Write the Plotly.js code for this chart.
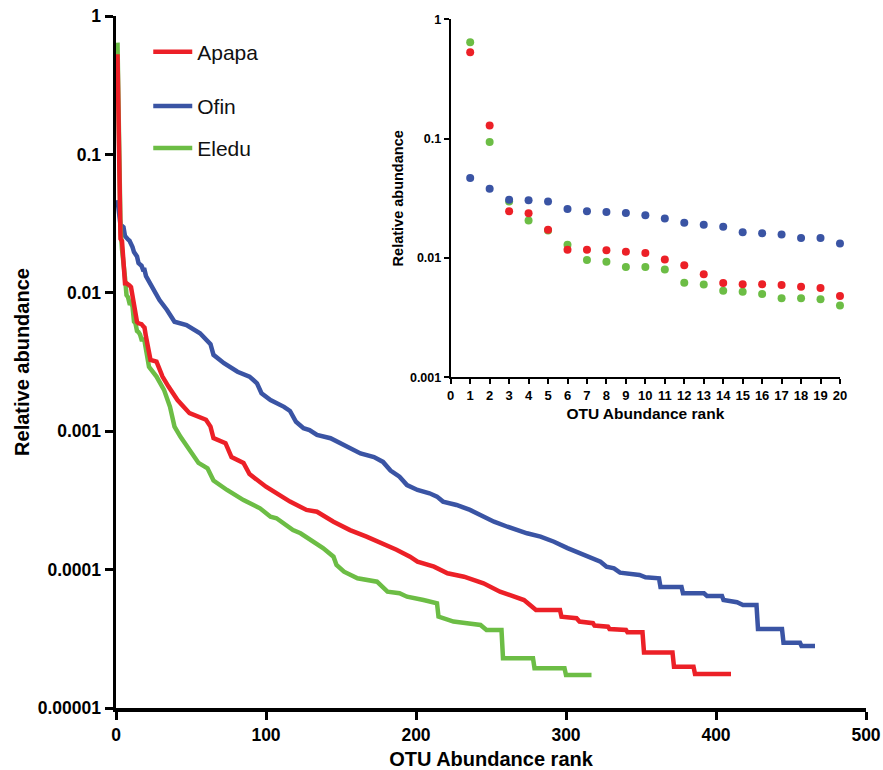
<!DOCTYPE html>
<html>
<head>
<meta charset="utf-8">
<script src="https://cdn.plot.ly/plotly-3.0.1.min.js"></script>
<style>html,body{margin:0;padding:0;background:#fff;}#chart{width:883px;height:770px;}</style>
</head>
<body>
<div id="chart"></div>
<script>
// ---- Data ----
const seriesNames = ["Apapa", "Ofin", "Eledu"];

// Top 20 OTUs (inset), ranks 1..20
const insetRanks = [1,2,3,4,5,6,7,8,9,10,11,12,13,14,15,16,17,18,19,20];
const apapaTop20 = [0.529,0.129,0.0246,0.0237,0.0172,0.0117,0.0117,0.0116,0.0113,0.0110,0.00969,0.00869,0.00730,0.00617,0.00602,0.00602,0.00594,0.00575,0.00561,0.00481];
const ofinTop20  = [0.0468,0.0381,0.0308,0.0304,0.0298,0.0257,0.0246,0.0243,0.0238,0.0228,0.0214,0.0197,0.0190,0.0183,0.0164,0.0161,0.0157,0.0147,0.0147,0.0132];
const eleduTop20 = [0.642,0.0938,0.0298,0.0206,0.0170,0.0129,0.0096,0.0093,0.0084,0.0084,0.0080,0.0062,0.0060,0.0053,0.0052,0.0050,0.0046,0.0046,0.0045,0.0040];

// Remaining ranks (main rank-abundance curves beyond rank 20)
const apapaTailRanks = [23,27,31,35,41,49,60,63,65,73,77,85,89,100,116,127,134,145,156,167,178,187,196,201,212,221,232,245,256,265,272,280,296,297,307,309,318,319,328,329,340,341,351,352,371,372,385,386,410];
const apapaTailVals  = [0.00327,0.00318,0.00248,0.00210,0.00168,0.00135,0.00121,0.00108,0.00089,0.00082,0.00065,0.00059,0.00049,0.000397,0.00031,0.00027,0.000262,0.000222,0.000193,0.000173,0.000155,0.000139,0.000124,0.000114,0.000105,0.0000940,0.0000889,0.0000796,0.0000692,0.0000637,0.0000603,0.0000510,0.0000510,0.0000457,0.0000445,0.0000421,0.0000410,0.0000394,0.0000387,0.0000372,0.0000366,0.0000352,0.0000352,0.0000252,0.0000252,0.0000199,0.0000199,0.0000176,0.0000176];

const ofinTailRanks = [25,29,34,39,47,56,63,65,72,81,89,94,97,103,112,116,120,125,129,134,143,152,163,172,178,183,189,194,201,209,214,218,227,236,245,252,261,267,274,283,292,301,309,318,323,327,332,336,343,349,353,362,363,377,378,392,394,404,405,414,418,427,428,444,445,456,457,466];
const ofinTailVals  = [0.01048,0.00887,0.00751,0.00618,0.00585,0.00510,0.00425,0.00356,0.00310,0.00269,0.00248,0.00222,0.00188,0.00168,0.00150,0.00140,0.00117,0.00105,0.00102,0.00094,0.00089,0.00079,0.00069,0.00065,0.00060,0.00052,0.000469,0.000408,0.000376,0.000356,0.000337,0.000310,0.000293,0.000270,0.000241,0.000222,0.000204,0.000193,0.000183,0.000173,0.000159,0.000143,0.000131,0.000121,0.000114,0.000105,0.000102,0.0000951,0.0000930,0.0000914,0.0000879,0.0000865,0.0000748,0.0000748,0.0000674,0.0000674,0.0000645,0.0000645,0.0000603,0.0000581,0.0000555,0.0000555,0.0000372,0.0000372,0.0000296,0.0000296,0.0000281,0.0000281];

const eleduTailRanks = [22,27,32,36,39,43,49,55,61,65,74,85,96,103,107,118,123,132,138,145,147,152,161,174,181,189,194,205,214,215,225,234,243,247,257,258,278,279,299,300,317];
const eleduTailVals  = [0.00292,0.00248,0.00199,0.00150,0.00108,0.00091,0.00073,0.00059,0.00054,0.00044,0.000376,0.000318,0.000277,0.000241,0.000235,0.000193,0.000183,0.000159,0.000143,0.000124,0.000108,0.0000966,0.0000865,0.0000818,0.0000692,0.0000674,0.0000637,0.0000603,0.0000571,0.0000457,0.0000421,0.0000410,0.0000398,0.0000366,0.0000366,0.0000229,0.0000229,0.0000194,0.0000194,0.0000173,0.0000173];

const mainXTicks = [0,100,200,300,400,500];
const mainYTickVals = [1,0.1,0.01,0.001,0.0001,0.00001];
const mainYTickText = ["1","0.1","0.01","0.001","0.0001","0.00001"];
const insetXTicks = [0,1,2,3,4,5,6,7,8,9,10,11,12,13,14,15,16,17,18,19,20];
const insetYTickVals = [1,0.1,0.01,0.001];
const insetYTickText = ["1","0.1","0.01","0.001"];

// ---- Styles ----
const RED = "rgb(236,32,39)", BLUE = "rgb(58,84,164)", GREEN = "rgb(108,189,69)";
const FONT = "Liberation Sans, Arial, Helvetica, sans-serif";

const apapaX = insetRanks.concat(apapaTailRanks), apapaY = apapaTop20.concat(apapaTailVals);
const ofinX = insetRanks.concat(ofinTailRanks), ofinY = ofinTop20.concat(ofinTailVals);
const eleduX = insetRanks.concat(eleduTailRanks), eleduY = eleduTop20.concat(eleduTailVals);

const LW = 4.5;
const traces = [
  {x: ofinX, y: ofinY, name: seriesNames[1], type: "scatter", mode: "lines", line: {color: BLUE, width: LW}, legend: "legend2", xaxis: "x", yaxis: "y"},
  {x: eleduX, y: eleduY, name: seriesNames[2], type: "scatter", mode: "lines", line: {color: GREEN, width: LW}, legend: "legend3", xaxis: "x", yaxis: "y"},
  {x: apapaX, y: apapaY, name: seriesNames[0], type: "scatter", mode: "lines", line: {color: RED, width: LW}, legend: "legend", xaxis: "x", yaxis: "y"},
  {x: insetRanks, y: eleduTop20, type: "scatter", mode: "markers", marker: {color: GREEN, size: 8}, showlegend: false, xaxis: "x2", yaxis: "y2", cliponaxis: false},
  {x: insetRanks, y: apapaTop20, type: "scatter", mode: "markers", marker: {color: RED, size: 8}, showlegend: false, xaxis: "x2", yaxis: "y2", cliponaxis: false},
  {x: insetRanks, y: ofinTop20, type: "scatter", mode: "markers", marker: {color: BLUE, size: 8}, showlegend: false, xaxis: "x2", yaxis: "y2", cliponaxis: false}
];

function legendAt(y) {
  return {x: 0.043, y: y, xanchor: "left", yanchor: "middle", bgcolor: "rgba(0,0,0,0)", borderwidth: 0,
          itemwidth: 39, font: {family: FONT, size: 21, color: "#111"}};
}

const layout = {
  width: 883, height: 770,
  margin: {l: 116, r: 17, t: 16, b: 62},
  paper_bgcolor: "#fff", plot_bgcolor: "rgba(0,0,0,0)",
  font: {family: FONT, color: "#000"},
  showlegend: true,
  legend: legendAt(0.948),
  legend2: legendAt(0.8695),
  legend3: legendAt(0.8088),
  xaxis: {
    domain: [0, 1], range: [0, 500], tickvals: mainXTicks, ticktext: mainXTicks.map(String),
    showgrid: false, zeroline: false, showline: true, linecolor: "#000", linewidth: 3.5,
    ticks: "outside", ticklen: 8, tickwidth: 3, tickcolor: "#000",
    tickfont: {family: FONT, size: 17.5, weight: "bold", color: "#000"},
    title: {text: "OTU Abundance rank", font: {family: FONT, size: 20, weight: "bold", color: "#000"}, standoff: 10},
    automargin: false, fixedrange: true
  },
  yaxis: {
    domain: [0, 1], type: "log", range: [-5, 0], tickvals: mainYTickVals, ticktext: mainYTickText,
    showgrid: false, zeroline: false, showline: true, linecolor: "#000", linewidth: 3.5,
    ticks: "outside", ticklen: 8, tickwidth: 3, tickcolor: "#000",
    tickfont: {family: FONT, size: 17.5, weight: "bold", color: "#000"},
    title: {text: "Relative abundance", font: {family: FONT, size: 20, weight: "bold", color: "#000"}, standoff: 3},
    automargin: false, fixedrange: true
  },
  xaxis2: {
    domain: [0.4463, 0.9653], anchor: "y2", range: [0, 20], tickvals: insetXTicks, ticktext: insetXTicks.map(String),
    showgrid: false, zeroline: false, showline: true, linecolor: "#000", linewidth: 2,
    ticks: "outside", ticklen: 5, tickwidth: 2, tickcolor: "#000",
    tickfont: {family: FONT, size: 13, weight: "bold", color: "#000"},
    title: {text: "OTU Abundance rank", font: {family: FONT, size: 15.5, weight: "bold", color: "#000"}, standoff: 6},
    automargin: false, fixedrange: true
  },
  yaxis2: {
    domain: [0.4779, 0.9952], anchor: "x2", type: "log", range: [-3, 0], tickvals: insetYTickVals, ticktext: insetYTickText,
    showgrid: false, zeroline: false, showline: true, linecolor: "#000", linewidth: 2,
    ticks: "outside", ticklen: 5, tickwidth: 2, tickcolor: "#000",
    tickfont: {family: FONT, size: 12.5, weight: "bold", color: "#000"},
    title: {text: "Relative abundance", font: {family: FONT, size: 14.5, weight: "bold", color: "#000"}, standoff: 3},
    automargin: false, fixedrange: true
  }
};

Plotly.newPlot("chart", traces, layout, {displayModeBar: false, staticPlot: true});
</script>
</body>
</html>
